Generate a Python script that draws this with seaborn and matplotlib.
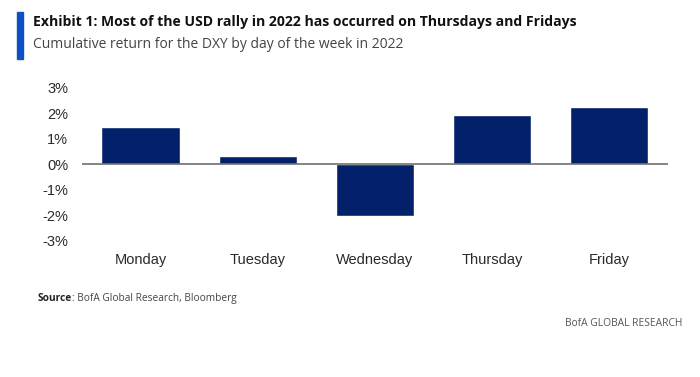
import matplotlib
matplotlib.use("Agg")
import matplotlib.pyplot as plt
import seaborn as sns
import pandas as pd
from matplotlib.patches import Rectangle

days = ["Monday", "Tuesday", "Wednesday", "Thursday", "Friday"]
returns = [1.46, 0.31, -2.04, 1.92, 2.25]
yticks = [-3, -2, -1, 0, 1, 2, 3]

TITLE = "Exhibit 1: Most of the USD rally in 2022 has occurred on Thursdays and Fridays"
SUBTITLE = "Cumulative return for the DXY by day of the week in 2022"

sns.set_theme(style="white")
plt.rcParams['font.family'] = ['Liberation Sans', 'DejaVu Sans']

df = pd.DataFrame({"day": days, "ret": returns})

fig = plt.figure(figsize=(7, 3.77), dpi=100)
ax = fig.add_axes([0.117, 0.361, 0.837, 0.406])

sns.barplot(data=df, x="day", y="ret", color="#03216a", saturation=1,
            width=0.667, ax=ax)

ax.axhline(0, color="#707070", lw=1.2, zorder=3)
ax.set_xlim(-0.5, 4.5)
ax.set_ylim(-3, 3)
ax.set_yticks(yticks)
ax.set_yticklabels([f"{v}%" for v in yticks], fontsize=10.5, color="#2a2a2a")
ax.tick_params(axis="x", labelsize=10.5, colors="#2a2a2a", pad=9, length=0)
ax.tick_params(axis="y", pad=10, length=0)
ax.set_xlabel("")
ax.set_ylabel("")
for s in ax.spines.values():
    s.set_visible(False)

# blue accent bar beside the title
fig.patches.append(Rectangle((17 / 700, 1 - 59 / 377), 6 / 700, 47 / 377,
                             transform=fig.transFigure, color="#0f4fc4"))
fig.text(33 / 700, 1 - 22 / 377, TITLE, fontsize=10.1, fontweight="bold",
         family=["Open Sans"], va="center", ha="left", color="#111111")
fig.text(33 / 700, 1 - 45 / 377, SUBTITLE, fontsize=10.0,
         family=["Open Sans"], va="center", ha="left", color="#444444")

# source line: bold label followed by regular text on the same baseline
src = fig.text(38 / 700, 1 - 301 / 377, "Source", fontsize=7.3, fontweight="bold",
               family=["Open Sans"], va="baseline", ha="left", color="#222222")
fig.canvas.draw()
bb = src.get_window_extent(fig.canvas.get_renderer())
fig.text(bb.x1 / 700, 1 - 301 / 377, ": BofA Global Research, Bloomberg", fontsize=7.3,
         family=["Open Sans"], va="baseline", ha="left", color="#444444")
fig.text(682 / 700, 1 - 324 / 377, "BofA GLOBAL RESEARCH", fontsize=7.4,
         family=["Open Sans"], va="center", ha="right", color="#555555")

fig.savefig("out.png", dpi=100, facecolor="white")
